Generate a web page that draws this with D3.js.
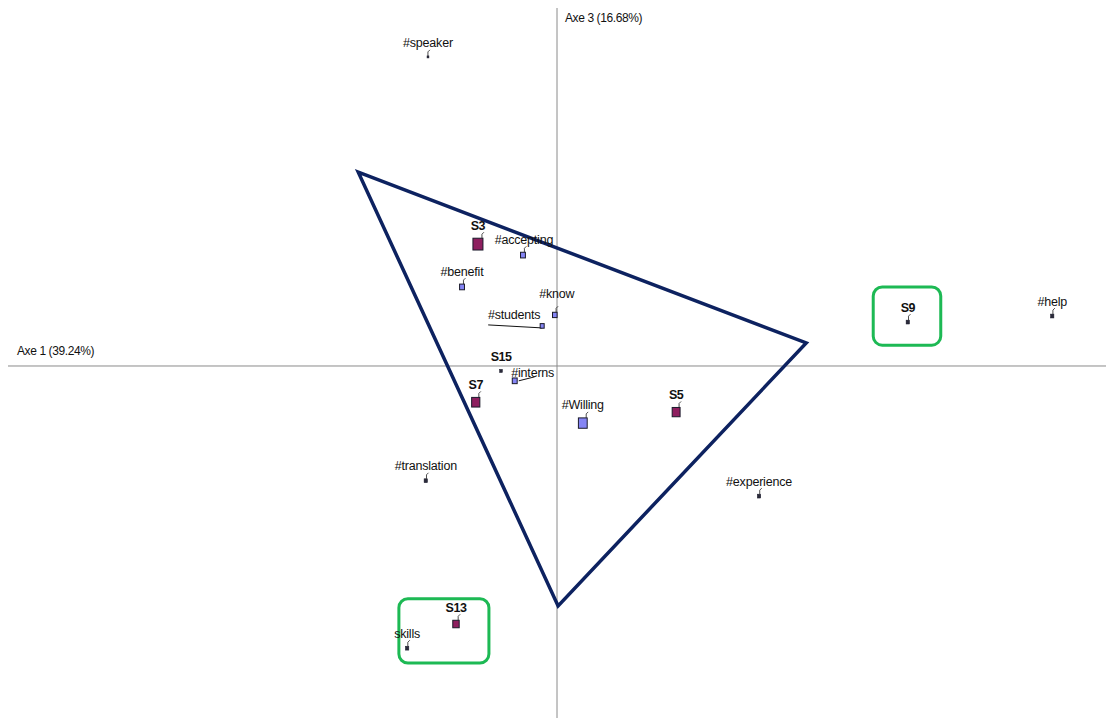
<!DOCTYPE html>
<html>
<head>
<meta charset="utf-8">
<script src="https://cdn.jsdelivr.net/npm/d3@7"></script>
<style>
  body { margin: 0; background: #fff; }
  svg { display: block; font-family: "Liberation Sans", Arial, sans-serif; }
</style>
</head>
<body>
<svg id="chart" width="1106" height="718"></svg>
<script>
// point names, coordinates on axe 1 / axe 3, and kind (s = subject, w = word)
const names = ["#speaker", "S3", "#accepting", "#benefit", "#know", "#students", "S15", "#interns", "S7",
  "#Willing", "S5", "#translation", "#experience", "S13", "skills", "S9", "#help"]
const axe1 = [-0.235, -0.144, -0.062, -0.173, -0.004, -0.027, -0.102, -0.077, -0.148,
  0.047, 0.217, -0.239, 0.368, -0.184, -0.273, 0.639, 0.902]
const axe3 = [0.563, 0.222, 0.202, 0.144, 0.093, 0.073, -0.009, -0.027, -0.066,
  -0.104, -0.084, -0.209, -0.237, -0.470, -0.514, 0.080, 0.091]
const kinds = ["w", "s", "w", "w", "w", "w", "s", "w", "s", "w", "s", "w", "w", "s", "w", "s", "w"]
// relative marker weight
const weights = [0.3, 3, 1.3, 1.3, 1.2, 1, 0.6, 1.3, 2.4, 2.6, 2.3, 0.8, 0.8, 1.8, 0.8, 0.8, 0.8]

// triangle drawn over the plane
const triangleX = [-0.362, 0.454, 0.002]
const triangleY = [0.353, 0.042, -0.437]

// highlight boxes [x0, x1, y0, y1]
const boxes = [[0.576, 0.699, 0.144, 0.038], [-0.288, -0.124, -0.424, -0.541]]

const axisLabelX = "Axe 1 (39.24%)"
const axisLabelY = "Axe 3 (16.68%)"

const svg = d3.select("#chart")
const x = d3.scaleLinear().domain([-1, 1]).range([8, 1106])
const y = d3.scaleLinear().domain([-0.6412, 0.6521]).range([718, 8])

// axes
svg.append("line").attr("x1", x(-1)).attr("x2", x(1)).attr("y1", y(0)).attr("y2", y(0))
  .attr("stroke", "#8a8a8a").attr("stroke-width", 1)
svg.append("line").attr("x1", x(0)).attr("x2", x(0)).attr("y1", y(0.6521)).attr("y2", y(-0.6412))
  .attr("stroke", "#8a8a8a").attr("stroke-width", 1)

svg.append("text").attr("x", 17).attr("y", y(0) - 11).text(axisLabelX)
  .style("font-size", "12px").style("letter-spacing", "-0.4px").attr("fill", "#111")
svg.append("text").attr("x", x(0) + 8).attr("y", 22).text(axisLabelY)
  .style("font-size", "12px").style("letter-spacing", "-0.4px").attr("fill", "#111")

// label offsets for the few labels not sitting right above their marker
const labelShift = { "#accepting": [1, 0], "#students": [-28, 4], "#interns": [18, 8], "#know": [2, -6] }
const leaders = { "#students": [[-54, -1], [0, 2]], "#interns": [[4, 0], [20, -4]] }

const pts = names.map((n, i) => ({ name: n, cx: x(axe1[i]), cy: y(axe3[i]), kind: kinds[i], w: weights[i] }))

// triangle
svg.append("polygon")
  .attr("points", triangleX.map((d, i) => [x(d), y(triangleY[i])].join(",")).join(" "))
  .attr("fill", "none").attr("stroke", "#0d2260").attr("stroke-width", 3.5)
  .attr("stroke-linejoin", "miter")

// boxes
boxes.forEach(b => {
  svg.append("rect")
    .attr("x", x(b[0])).attr("y", y(b[2]))
    .attr("width", x(b[1]) - x(b[0])).attr("height", y(b[3]) - y(b[2]))
    .attr("rx", 9).attr("fill", "none").attr("stroke", "#1db954").attr("stroke-width", 3)
})

// leader lines
pts.forEach(p => {
  if (leaders[p.name]) {
    const l = leaders[p.name]
    svg.append("line")
      .attr("x1", p.cx + l[0][0]).attr("y1", p.cy + l[0][1])
      .attr("x2", p.cx + l[1][0]).attr("y2", p.cy + l[1][1])
      .attr("stroke", "#111").attr("stroke-width", 1)
  }
})

// markers
const g = svg.selectAll(".pt").data(pts).join("g").attr("class", "pt")
g.append("rect")
  .attr("x", d => d.cx - 1.5 * d.w - 0.5)
  .attr("y", d => d.cy - 1.8 * d.w - 0.5)
  .attr("width", d => 3 * d.w + 1)
  .attr("height", d => 3.6 * d.w + 1)
  .attr("fill", d => d.w < 1 ? "#2a2a3a" : d.kind === "s" ? "#8e1f5f" : "#8585f5")
  .attr("stroke", "#1a1a2a").attr("stroke-width", d => d.w < 1 ? 0.5 : 1)
g.filter(d => d.name !== "S15" && !leaders[d.name]).append("path")
  .attr("d", d => {
    const tx = d.cx + 1.5 * d.w - 0.5, ty = d.cy - 1.8 * d.w - 0.5
    return `M${tx},${ty} L${tx},${ty - 4} L${tx + 2},${ty - 6}`
  })
  .attr("fill", "none").attr("stroke", "#222").attr("stroke-width", 0.8)

// labels
g.append("text")
  .attr("x", d => d.cx + (labelShift[d.name] ? labelShift[d.name][0] : 0))
  .attr("y", d => d.cy - 1.8 * d.w - 9 + (labelShift[d.name] ? labelShift[d.name][1] : 0))
  .attr("text-anchor", "middle")
  .style("font-size", "12.5px")
  .style("font-weight", d => d.kind === "s" ? "bold" : "normal")
  .style("letter-spacing", d => d.kind === "s" ? "-0.5px" : "-0.2px")
  .attr("fill", "#111")
  .text(d => d.name)
</script>
</body>
</html>
